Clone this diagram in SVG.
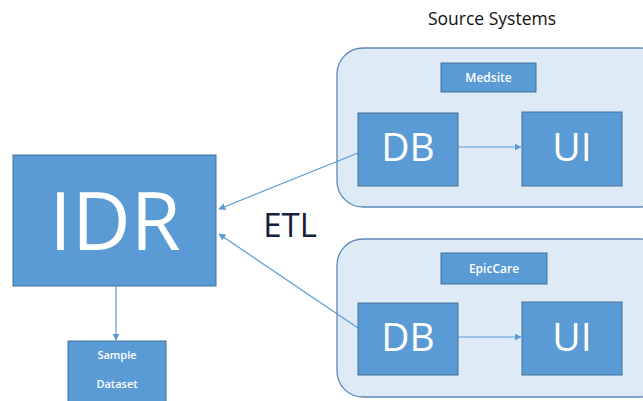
<svg xmlns="http://www.w3.org/2000/svg" width="643" height="401" viewBox="0 0 643 401">
<defs>
<style>
.box{fill:#5B9BD5;stroke:#41719C;stroke-width:1}
.cont{fill:#DEEBF7;stroke:#5E88B8;stroke-width:1.3}
.w{fill:#fff;font-family:"Open Sans","Liberation Sans",sans-serif;text-anchor:middle}
.s{font-weight:600}
.k{fill:#111;font-family:"Open Sans","Liberation Sans",sans-serif;text-anchor:middle}
.c{stroke:#5B9BD5;stroke-width:1.2;fill:none;marker-end:url(#ah)}
</style>
<marker id="ah" viewBox="0 0 10 10" refX="9" refY="5" markerWidth="7" markerHeight="7" orient="auto" markerUnits="userSpaceOnUse">
<path d="M0,0 L10,5 L0,10 z" fill="#5B9BD5"/>
</marker>
</defs>
<rect width="643" height="401" fill="#fff"/>
<text class="k" x="492" y="25" font-size="17.5">Source Systems</text>
<g id="medsite-group">
<rect class="cont" x="337" y="48" width="330" height="159" rx="26"/>
<g id="medsite"><rect class="box" x="441" y="63" width="95" height="29"/><text class="w s" x="488.5" y="82" font-size="12">Medsite</text></g>
<g id="db1"><rect class="box" x="358" y="113" width="100" height="73"/><text class="w" x="408" y="161" font-size="39">DB</text></g>
<g id="ui1"><rect class="box" x="522" y="112" width="100" height="74"/><text class="w" x="572" y="161" font-size="39">UI</text></g>
</g>
<g id="epiccare-group">
<rect class="cont" x="337" y="239" width="330" height="158" rx="26"/>
<g id="epiccare"><rect class="box" x="441" y="253" width="106" height="31"/><text class="w s" x="494" y="273" font-size="12">EpicCare</text></g>
<g id="db2"><rect class="box" x="358" y="303" width="100" height="72"/><text class="w" x="408" y="351" font-size="39">DB</text></g>
<g id="ui2"><rect class="box" x="522" y="302" width="100" height="73"/><text class="w" x="572" y="351" font-size="39">UI</text></g>
</g>
<g id="idr"><rect class="box" x="13" y="155" width="203" height="131"/><text class="w" x="115" y="250" font-size="81">IDR</text></g>
<g id="sample"><rect class="box" x="68" y="341" width="98" height="70"/><text class="w s" x="117" y="359" font-size="11">Sample</text><text class="w s" x="117" y="388" font-size="11">Dataset</text></g>
<text class="k" x="290" y="237" font-size="33" style="fill:#16203a">ETL</text>
<g id="connectors">
<path class="c" d="M458,147 L521,147"/>
<path class="c" d="M458,337 L521,337"/>
<path class="c" d="M358,153 L219,209"/>
<path class="c" d="M358,328 L219,234"/>
<path class="c" d="M116,286 L116,340"/>
</g>
</svg>
